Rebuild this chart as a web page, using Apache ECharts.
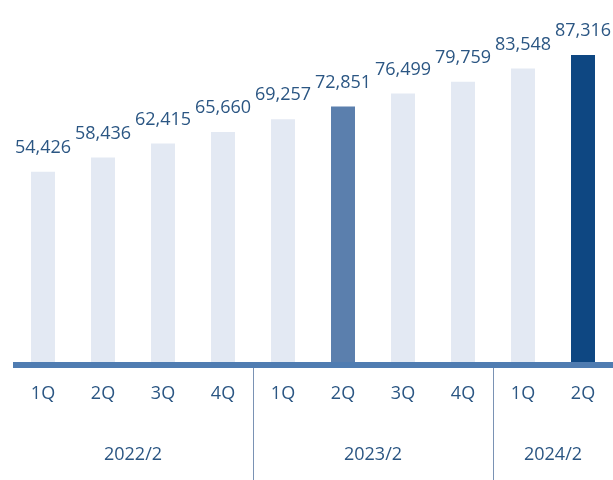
<!DOCTYPE html>
<html>
<head>
<meta charset="utf-8">
<style>
  html, body { margin: 0; padding: 0; background: #ffffff; }
  #chart { width: 613px; height: 480px; }
</style>
<script src="https://cdn.jsdelivr.net/npm/echarts@6/dist/echarts.min.js"></script>
</head>
<body>
<div id="chart"></div>
<script>
// Quarterly figures, grouped by fiscal year
const quarters = ['1Q', '2Q', '3Q', '4Q', '1Q', '2Q', '3Q', '4Q', '1Q', '2Q'];
const values = [54426, 58436, 62415, 65660, 69257, 72851, 76499, 79759, 83548, 87316];
const groups = ['2022/2', '2023/2', '2024/2'];
const groupSizes = [4, 4, 2];

// Bars that get emphasis colours (same quarter in the last two years)
const highlight = { 5: '#5b7fad', 9: '#0e4782' };
const baseColor = '#e3e9f3';
const textColor = '#2b5683';

// Group label centres and separator positions along the category band
const groupCenters = [];
const groupBounds = [];
let acc = 0;
groupSizes.forEach((n, i) => {
  groupCenters.push(acc + n / 2);
  acc += n;
  if (i < groupSizes.length - 1) groupBounds.push(acc);
});

const chart = echarts.init(document.getElementById('chart'));
chart.setOption({
  animation: false,
  grid: { left: 13, right: 0, top: 10, bottom: 115 },
  xAxis: [
    {
      type: 'category',
      data: quarters,
      z: 3,
      axisLine: { lineStyle: { color: '#4f7cb1', width: 6, cap: 'butt' } },
      axisTick: { show: false },
      axisLabel: {
        color: textColor,
        fontFamily: 'Open Sans',
        fontSize: 18,
        margin: 20
      }
    },
    {
      type: 'value',
      min: 0,
      max: quarters.length,
      position: 'bottom',
      splitLine: { show: false },
      axisLine: { show: false },
      axisTick: {
        show: true,
        customValues: groupBounds,
        length: 115,
        lineStyle: { color: '#7a92b4', width: 1 }
      },
      axisLabel: {
        customValues: groupCenters,
        color: textColor,
        fontFamily: 'Open Sans',
        fontSize: 18,
        margin: 81,
        formatter: (v) => {
          const i = groupCenters.indexOf(v);
          return i >= 0 ? groups[i] : '';
        }
      }
    }
  ],
  yAxis: {
    type: 'value',
    min: 0,
    max: 100000,
    show: false
  },
  series: [
    {
      type: 'bar',
      xAxisIndex: 0,
      data: values,
      barWidth: '40%',
      itemStyle: {
        color: (p) => highlight[p.dataIndex] || baseColor
      },
      label: {
        show: true,
        position: 'top',
        distance: 15,
        color: textColor,
        fontFamily: 'Open Sans',
        fontSize: 18,
        formatter: (p) => p.value.toLocaleString('en-US')
      }
    }
  ]
});
</script>
</body>
</html>
